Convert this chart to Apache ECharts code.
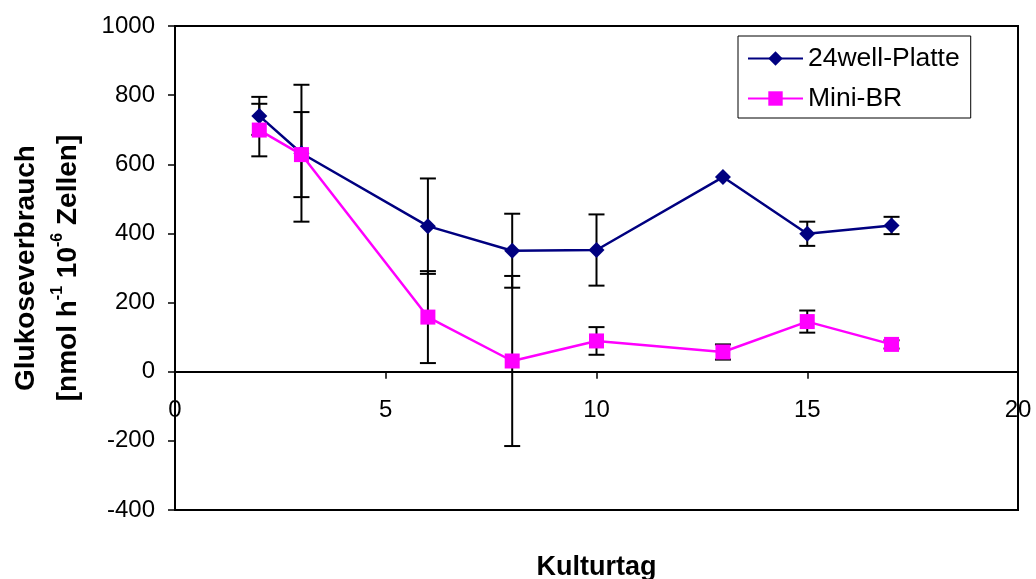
<!DOCTYPE html>
<html>
<head>
<meta charset="utf-8">
<script src="https://cdn.jsdelivr.net/npm/echarts@6/dist/echarts.min.js"></script>
<style>html,body{margin:0;padding:0;background:#fff}#c{width:1036px;height:579px}</style>
</head>
<body>
<div id="c"></div>
<script>
var days = [2, 3, 6, 8, 10, 13, 15, 17];
var wellValues = [740, 632, 421, 350, 352, 563, 399, 423];
var wellErrors = [55, 198, 138, 107, 103, 0, 35, 25];
var miniValues = [699, 628, 158, 31, 89, 57, 145, 79];
var miniErrors = [76, 123, 133, 246, 40, 22, 32, 12];
var xTicks = [0, 5, 10, 15, 20];
var yTicks = [-400, -200, 0, 200, 400, 600, 800, 1000];

function pairs(xs, ys) { return xs.map(function (x, i) { return [x, ys[i]]; }); }
function errData(xs, ys, es) {
  var out = [];
  xs.forEach(function (x, i) { if (es[i] > 0) out.push([x, ys[i] - es[i], ys[i] + es[i]]); });
  return out;
}
function errRender(params, api) {
  var x = api.value(0), lo = api.value(1), hi = api.value(2);
  var p1 = api.coord([x, hi]), p2 = api.coord([x, lo]);
  var w = 8;
  var st = { stroke: '#000', lineWidth: 2 };
  return {
    type: 'group',
    children: [
      { type: 'line', shape: { x1: p1[0], y1: p1[1], x2: p2[0], y2: p2[1] }, style: st },
      { type: 'line', shape: { x1: p1[0] - w, y1: p1[1], x2: p1[0] + w, y2: p1[1] }, style: st },
      { type: 'line', shape: { x1: p2[0] - w, y1: p2[1], x2: p2[0] + w, y2: p2[1] }, style: st }
    ]
  };
}

var chart = echarts.init(document.getElementById('c'));
chart.setOption({
  backgroundColor: '#fff',
  animation: false,
  grid: { left: 175, right: 18, top: 26, bottom: 69, show: true, borderColor: '#000', borderWidth: 2, containLabel: false, outerBoundsMode: 'none' },
  legend: {
    orient: 'vertical', left: 738, top: 36,
    padding: [9, 11, 6, 9], itemGap: 13, itemWidth: 55, itemHeight: 18,
    borderColor: '#000', borderWidth: 1, backgroundColor: '#fff',
    textStyle: { fontFamily: 'Liberation Sans, Arial', fontSize: 26.5, color: '#000' },
    data: ['24well-Platte', 'Mini-BR']
  },
  xAxis: {
    type: 'value', min: xTicks[0], max: xTicks[xTicks.length - 1], interval: 5,
    name: 'Kulturtag', nameLocation: 'middle', nameGap: 44,
    nameTextStyle: { fontFamily: 'Liberation Sans, Arial', fontSize: 27, fontWeight: 'bold', color: '#000' },
    axisLine: { onZero: true, lineStyle: { color: '#000', width: 2 } },
    axisTick: { show: true, length: 7, lineStyle: { color: '#000', width: 1.5 } },
    axisLabel: { margin: -112, fontFamily: 'Liberation Sans, Arial', fontSize: 24, color: '#000', showMaxLabel: true, showMinLabel: true },
    splitLine: { show: false }
  },
  yAxis: {
    type: 'value', min: yTicks[0], max: yTicks[yTicks.length - 1], interval: 200,
    name: '{b|Glukoseverbrauch}\n{b|[nmol h}{s|-1}{b| 10}{s|-6}{b| Zellen]}',
    nameLocation: 'middle', nameGap: 86, nameRotate: 90,
    nameTextStyle: {
      fontFamily: 'Liberation Sans, Arial', color: '#000', align: 'center',
      rich: {
        b: { fontFamily: 'Liberation Sans, Arial', fontSize: 28, fontWeight: 'bold', color: '#000', lineHeight: 42 },
        s: { fontFamily: 'Liberation Sans, Arial', fontSize: 16, fontWeight: 'bold', color: '#000', verticalAlign: 'top', padding: [3, 0, 0, 0] }
      }
    },
    axisLine: { show: true, onZero: false, lineStyle: { color: '#000', width: 2 } },
    axisTick: { show: true, length: 7, lineStyle: { color: '#000', width: 1.5 } },
    axisLabel: { margin: 20, fontFamily: 'Liberation Sans, Arial', fontSize: 24, color: '#000', formatter: function (v) { return String(v); } },
    splitLine: { show: false }
  },
  series: [
    { type: 'custom', name: 'errWell', renderItem: errRender, data: errData(days, wellValues, wellErrors), z: 1, silent: true },
    { type: 'custom', name: 'errMini', renderItem: errRender, data: errData(days, miniValues, miniErrors), z: 1, silent: true },
    {
      type: 'line', name: '24well-Platte', data: pairs(days, wellValues), z: 3,
      symbol: 'diamond', symbolSize: 16, showAllSymbol: true,
      lineStyle: { color: '#000080', width: 2.5 }, itemStyle: { color: '#000080' }
    },
    {
      type: 'line', name: 'Mini-BR', data: pairs(days, miniValues), z: 4,
      symbol: 'rect', symbolSize: 15, showAllSymbol: true,
      lineStyle: { color: '#FF00FF', width: 2.5 }, itemStyle: { color: '#FF00FF' }
    }
  ]
});
</script>
</body>
</html>
